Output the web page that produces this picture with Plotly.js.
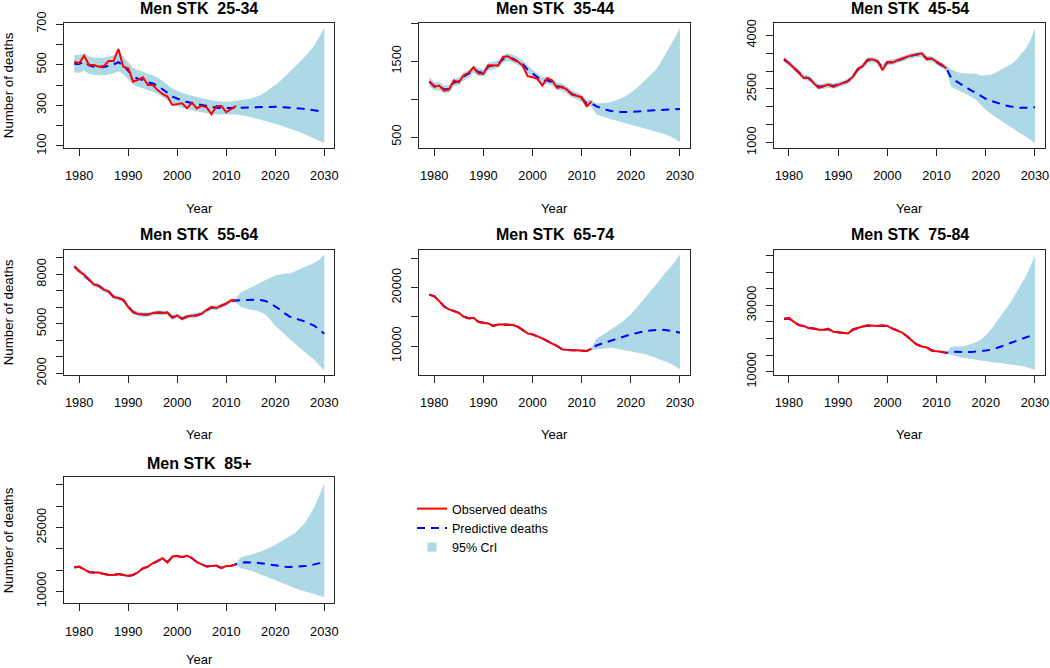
<!DOCTYPE html>
<html>
<head>
<meta charset="utf-8">
<script src="https://cdn.plot.ly/plotly-3.0.1.min.js"></script>
<style>
html,body{margin:0;padding:0;background:#fff;}
#chart{width:1050px;height:668px;}
</style>
</head>
<body>
<div id="chart"></div>
<script>
// ---------------- DATA ----------------
const years = [1979,1980,1981,1982,1983,1984,1985,1986,1987,1988,1989,1990,1991,1992,1993,1994,1995,1996,1997,1998,1999,2000,2001,2002,2003,2004,2005,2006,2007,2008,2009,2010,2011,2012,2013,2014,2015,2016,2017,2018,2019,2020,2021,2022,2023,2024,2025,2026,2027,2028,2029,2030];
const yearsObs = [1979,1980,1981,1982,1983,1984,1985,1986,1987,1988,1989,1990,1991,1992,1993,1994,1995,1996,1997,1998,1999,2000,2001,2002,2003,2004,2005,2006,2007,2008,2009,2010,2011,2012];

const panelTitles = ["Men STK\u00a0 25-34","Men STK\u00a0 35-44","Men STK\u00a0 45-54","Men STK\u00a0 55-64","Men STK\u00a0 65-74","Men STK\u00a0 75-84","Men STK\u00a0 85+"];
const xTickVals = [1980,1990,2000,2010,2020,2030];
const xTickText = ["1980","1990","2000","2010","2020","2030"];

const yTicks_25_34 = [100,200,300,400,500,600,700];
const yLabels_25_34 = ["100","","300","","500","","700"];
const yTicks_35_44 = [500,1000,1500,2000];
const yLabels_35_44 = ["500","","1500",""];
const yTicks_45_54 = [1000,1500,2000,2500,3000,3500,4000];
const yLabels_45_54 = ["1000","","","2500","","","4000"];
const yTicks_55_64 = [2000,3000,4000,5000,6000,7000,8000,9000];
const yLabels_55_64 = ["2000","","","5000","","","8000",""];
const yTicks_65_74 = [10000,15000,20000,25000];
const yLabels_65_74 = ["10000","","20000",""];
const yTicks_75_84 = [10000,15000,20000,25000,30000,35000,40000,45000];
const yLabels_75_84 = ["10000","","","","30000","","",""];
const yTicks_85 = [10000,15000,20000,25000,30000,35000];
const yLabels_85 = ["10000","","","25000","",""];

// 25-34
const obs_25_34 = [515,507,544,498,498,490,493,518,518,577,490,482,416,425,438,400,400,375,356,343,302,307,310,285,313,285,298,290,256,297,297,266,280,297];
const pred_25_34 = [505,503,515,497,490,488,489,494,501,512,496,470,443,430,424,413,407,396,381,362,343,332,324,316,311,306,301,296,290,288,287,286,287,288,289,288,288,289,290,292,293,293,292,291,289,287,285,282,279,275,271,268];
const hi_25_34 = [548,547,556,540,535,533,535,540,545,555,540,512,485,472,466,455,448,437,421,401,382,370,362,353,347,341,336,330,324,321,319,318,319,322,327,330,334,341,351,366,382,400,420,442,465,490,513,538,565,595,635,682];
const lo_25_34 = [462,460,470,455,449,447,448,452,458,468,453,428,402,390,384,373,367,357,342,325,306,296,288,281,276,271,266,262,256,255,254,254,255,255,252,247,242,236,230,224,217,210,202,194,186,177,168,158,148,137,125,115];

// 35-44
const obs_35_44 = [1237,1162,1180,1114,1127,1246,1224,1316,1346,1421,1338,1333,1447,1443,1443,1557,1566,1522,1496,1443,1303,1289,1268,1180,1276,1246,1149,1162,1127,1061,1048,1026,908,969];
const pred_35_44 = [1230,1175,1170,1130,1135,1220,1235,1300,1335,1395,1360,1345,1430,1445,1460,1530,1555,1535,1505,1465,1390,1340,1300,1240,1250,1225,1170,1160,1120,1070,1045,1010,945,945,905,880,860,845,835,830,830,834,840,846,852,857,862,866,869,871,872,872];
const hi_35_44 = [1290,1228,1222,1182,1186,1270,1285,1350,1385,1445,1410,1395,1480,1495,1510,1580,1605,1585,1555,1515,1440,1390,1350,1290,1298,1273,1218,1208,1167,1117,1092,1057,992,990,943,946,952,963,982,1008,1042,1083,1135,1193,1255,1318,1382,1480,1588,1697,1815,1939];
const lo_35_44 = [1172,1122,1118,1078,1084,1170,1185,1250,1285,1345,1310,1295,1380,1395,1410,1480,1505,1485,1455,1415,1340,1290,1250,1190,1202,1177,1122,1112,1073,1023,998,963,898,900,798,775,754,735,718,700,684,667,650,633,615,597,579,560,538,512,478,434];

// 45-54
const obs_45_54 = [3344,3231,3091,2950,2809,2809,2669,2528,2575,2622,2556,2622,2669,2716,2837,3062,3137,3325,3325,3278,3025,3250,3231,3297,3353,3400,3437,3466,3494,3325,3353,3260,3184,3072];
const pred_45_54 = [3320,3220,3090,2960,2840,2800,2680,2560,2575,2610,2580,2610,2660,2720,2850,3040,3150,3300,3320,3270,3090,3240,3250,3290,3340,3390,3430,3460,3470,3350,3340,3250,3170,3070,2800,2710,2625,2540,2460,2385,2300,2225,2170,2120,2075,2040,2012,1990,1975,1972,1980,1990];
const hi_45_54 = [3395,3295,3165,3035,2915,2875,2755,2635,2650,2685,2655,2685,2735,2795,2925,3115,3225,3375,3395,3345,3165,3315,3325,3365,3415,3465,3505,3535,3545,3425,3415,3325,3245,3145,3044,2990,2935,2931,2931,2925,2875,2885,2895,2950,3025,3091,3184,3278,3437,3606,3840,4188];
const lo_45_54 = [3245,3145,3015,2885,2765,2725,2605,2485,2500,2535,2505,2535,2585,2645,2775,2965,3075,3225,3245,3195,3015,3165,3175,3215,3265,3315,3355,3385,3395,3275,3265,3175,3095,2995,2556,2495,2434,2360,2280,2200,2060,1919,1815,1712,1620,1535,1450,1360,1270,1187,1085,981];

// 55-64
const obs_55_64 = [8492,8188,7985,7680,7376,7316,7072,6970,6626,6565,6463,6017,5692,5591,5550,5550,5652,5692,5652,5692,5348,5510,5287,5450,5490,5510,5611,5855,6017,5956,6098,6220,6423,6423];
const pred_55_64 = [8470,8200,7980,7690,7400,7300,7080,6950,6650,6560,6440,6040,5720,5600,5560,5570,5640,5680,5670,5660,5400,5480,5320,5430,5490,5520,5620,5830,5990,5970,6090,6220,6400,6420,6400,6420,6440,6460,6440,6380,6250,6060,5850,5620,5430,5330,5246,5145,5003,4881,4640,4394];
const hi_55_64 = [8600,8330,8110,7820,7530,7430,7210,7080,6780,6690,6570,6170,5850,5730,5690,5700,5770,5810,5800,5790,5530,5610,5450,5560,5620,5650,5750,5960,6120,6100,6220,6350,6530,6550,6910,7040,7174,7340,7510,7680,7800,7924,7990,8046,8050,8180,8330,8450,8570,8695,8900,9202];
const lo_55_64 = [8340,8070,7850,7560,7270,7170,6950,6820,6520,6430,6310,5910,5590,5470,5430,5440,5510,5550,5540,5530,5270,5350,5190,5300,5360,5390,5490,5700,5860,5840,5960,6090,6270,6290,6017,5930,5855,5810,5720,5550,5250,4880,4580,4333,4060,3790,3522,3280,3040,2811,2480,2142];

// 65-74
const obs_65_74 = [18840,18555,17700,16730,16274,15989,15700,15020,14734,14848,14107,13992,13878,13422,13707,13707,13707,13593,13308,12680,12167,11996,11711,11312,10855,10456,10000,9430,9316,9259,9259,9259,9145,9544];
const pred_65_74 = [18800,18500,17750,16800,16300,16000,15700,15050,14780,14800,14150,14000,13850,13480,13680,13700,13700,13580,13300,12700,12180,12000,11700,11320,10870,10470,10010,9450,9330,9270,9260,9250,9170,9520,10100,10400,10680,10920,11150,11430,11720,12000,12200,12400,12550,12650,12740,12790,12760,12680,12500,12280];
const hi_65_74 = [19000,18700,17950,17000,16500,16200,15900,15250,14980,15000,14350,14200,14050,13680,13880,13900,13900,13780,13500,12900,12380,12200,11900,11520,11070,10670,10210,9650,9530,9470,9460,9450,9370,9720,11255,11770,12281,12850,13420,13992,14700,15418,16400,17414,18400,19330,20266,21400,22548,23403,24500,25685];
const lo_65_74 = [18600,18300,17550,16600,16100,15800,15500,14850,14580,14600,13950,13800,13650,13280,13480,13500,13500,13380,13100,12500,11980,11800,11500,11120,10670,10270,9810,9250,9130,9070,9060,9050,8970,9320,9430,9600,9715,9700,9600,9430,9290,9145,9000,8859,8600,8300,8004,7700,7370,7034,6550,6008];

// 75-84
const obs_75_84 = [26000,26200,25000,24000,23800,23100,23000,22600,22600,23000,22000,21800,21800,21500,22800,23300,23600,24000,23800,23800,24000,23800,23000,22300,21800,20600,19300,18100,17600,17300,16300,16200,16000,15600];
const pred_75_84 = [25900,26000,25100,24100,23700,23200,23000,22700,22600,22800,22100,21850,21750,21600,22600,23200,23600,23900,23850,23800,23900,23750,23050,22350,21800,20700,19400,18200,17650,17300,16450,16200,16000,15700,16000,16050,16000,15950,15900,16000,16200,16400,16600,17000,17500,18100,18600,19100,19600,20100,20700,21300];
const hi_75_84 = [26150,26250,25350,24350,23950,23450,23250,22950,22850,23050,22350,22100,22000,21850,22850,23450,23850,24150,24100,24050,24150,24000,23300,22600,22050,20950,19650,18450,17900,17550,16700,16450,16250,15950,17500,17500,17600,17900,18300,18900,19600,20900,22600,24600,26800,28800,30800,33300,35800,38300,41500,45000];
const lo_75_84 = [25650,25750,24850,23850,23450,22950,22750,22450,22350,22550,21850,21600,21500,21350,22350,22950,23350,23650,23600,23550,23650,23500,22800,22100,21550,20450,19150,17950,17400,17050,16200,15950,15750,15450,15000,14600,14300,14050,13800,13500,13250,13000,12850,12700,12600,12450,12300,12100,11800,11500,11050,10600];

// 85+
const obs_85 = [15655,15812,15183,14477,14398,14398,14084,13848,13848,14084,13848,13613,13848,14477,15419,15812,16597,17225,17775,16754,18168,18325,18011,18404,17775,16833,16361,15812,15969,16047,15419,15969,15969,16361];
const pred_85 = [15600,15750,15200,14550,14400,14380,14100,13880,13860,14050,13870,13650,13850,14450,15350,15800,16550,17200,17650,16900,18050,18250,18050,18300,17800,16900,16400,15850,15950,16000,15500,15900,16000,16350,16750,16830,16830,16760,16600,16420,16230,16050,15900,15780,15730,15750,15810,15920,16050,16300,16620,16990];
const hi_85 = [15850,16000,15450,14800,14650,14630,14350,14130,14110,14300,14120,13900,14100,14700,15600,16050,16800,17450,17900,17150,18300,18500,18300,18550,18050,17150,16650,16100,16200,16250,15750,16150,16250,16600,18011,18300,18561,18950,19350,19740,20300,20917,21580,22252,22950,23665,24800,26021,27800,29948,32500,35445];
const lo_85 = [15350,15500,14950,14300,14150,14130,13850,13630,13610,13800,13620,13400,13600,14200,15100,15550,16300,16950,17400,16650,17800,18000,17800,18050,17550,16650,16150,15600,15700,15750,15250,15650,15750,16100,15419,15150,14870,14400,13930,13456,13060,12670,12200,11730,11257,10780,10314,9990,9680,9372,8980,8586];

// ---------------- LAYOUT / BUILD ----------------
const W = 1050, H = 668;
const colPx = [[64.3,334.3],[419.3,690],[774,1045]];
const rowPx = [[22.7,147.7],[249.5,375],[477.3,603.3]];
const titleYPx = [8.5, 234.5, 463];
const yearYPx = [208, 434, 659];

const panels = [
  {title: panelTitles[0], obs: obs_25_34, pred: pred_25_34, hi: hi_25_34, lo: lo_25_34, yt: yTicks_25_34, yl: yLabels_25_34, yr: [91.6, 706.4], col: 0, row: 0},
  {title: panelTitles[1], obs: obs_35_44, pred: pred_35_44, hi: hi_35_44, lo: lo_35_44, yt: yTicks_35_44, yl: yLabels_35_44, yr: [360, 2009], col: 1, row: 0},
  {title: panelTitles[2], obs: obs_45_54, pred: pred_45_54, hi: hi_45_54, lo: lo_45_54, yt: yTicks_45_54, yl: yLabels_45_54, yr: [859, 4350], col: 2, row: 0},
  {title: panelTitles[3], obs: obs_55_64, pred: pred_55_64, hi: hi_55_64, lo: lo_55_64, yt: yTicks_55_64, yl: yLabels_55_64, yr: [1897, 9505], col: 0, row: 1},
  {title: panelTitles[4], obs: obs_65_74, pred: pred_65_74, hi: hi_65_74, lo: lo_65_74, yt: yTicks_65_74, yl: yLabels_65_74, yr: [5040, 26540], col: 1, row: 1},
  {title: panelTitles[5], obs: obs_75_84, pred: pred_75_84, hi: hi_75_84, lo: lo_75_84, yt: yTicks_75_84, yl: yLabels_75_84, yr: [9010, 46800], col: 2, row: 1},
  {title: panelTitles[6], obs: obs_85, pred: pred_85, hi: hi_85, lo: lo_85, yt: yTicks_85, yl: yLabels_85, yr: [7180, 36800], col: 0, row: 2}
];

const FONT = "Liberation Sans, Arial, Helvetica, sans-serif";
const AXC = "#262626";
const BAND = "#ADD8E6";

const traces = [];
const layout = {
  width: W, height: H,
  margin: {l: 0, r: 0, t: 0, b: 0},
  paper_bgcolor: "#ffffff",
  plot_bgcolor: "#ffffff",
  font: {family: FONT, color: "#000"},
  showlegend: true,
  legend: {
    x: 412 / W, y: 1 - 494 / H, xanchor: "left", yanchor: "top",
    font: {family: FONT, size: 12.5, color: "#000"},
    bgcolor: "rgba(0,0,0,0)", borderwidth: 0,
    tracegroupgap: 0
  },
  annotations: []
};

panels.forEach((p, i) => {
  const n = i + 1;
  const xa = "x" + n, ya = "y" + n;
  const first = i === 0;
  traces.push({
    x: years, y: p.lo, xaxis: xa, yaxis: ya, type: "scatter", mode: "lines",
    line: {width: 0, color: BAND}, hoverinfo: "skip", showlegend: false
  });
  traces.push({
    x: years, y: p.hi, xaxis: xa, yaxis: ya, type: "scatter", mode: "lines",
    fill: "tonexty", fillcolor: BAND,
    line: {width: 0, color: BAND}, hoverinfo: "skip", showlegend: false
  });
  traces.push({
    x: years, y: p.pred, xaxis: xa, yaxis: ya, type: "scatter", mode: "lines",
    name: "Predictive deaths", legendgroup: "pred", showlegend: first, legendrank: 2,
    line: {color: "#0000FF", width: 2, dash: "8px,6px"}
  });
  traces.push({
    x: yearsObs, y: p.obs, xaxis: xa, yaxis: ya, type: "scatter", mode: "lines",
    name: "Observed deaths", legendgroup: "obs", showlegend: first, legendrank: 1,
    line: {color: "#FF0000", width: 2}
  });

  const cx = colPx[p.col], ry = rowPx[p.row];
  const axName = n === 1 ? "" : String(n);
  layout["xaxis" + axName] = {
    domain: [cx[0] / W, cx[1] / W], anchor: ya,
    range: [1976.96, 2032.04], autorange: false,
    tickmode: "array", tickvals: xTickVals, ticktext: xTickText,
    ticks: "outside", ticklen: 7, tickwidth: 1, tickcolor: AXC,
    showline: true, linecolor: AXC, linewidth: 1, mirror: true,
    showgrid: false, zeroline: false,
    tickfont: {family: FONT, size: 12.8, color: "#000"},
    ticklabelstandoff: 9, fixedrange: true
  };
  layout["yaxis" + axName] = {
    domain: [1 - ry[1] / H, 1 - ry[0] / H], anchor: xa,
    range: p.yr, autorange: false,
    tickmode: "array", tickvals: p.yt, ticktext: p.yl, tickangle: -90,
    ticks: "outside", ticklen: 7, tickwidth: 1, tickcolor: AXC,
    showline: true, linecolor: AXC, linewidth: 1, mirror: true,
    showgrid: false, zeroline: false,
    tickfont: {family: FONT, size: 12.8, color: "#000"},
    ticklabelstandoff: 5, fixedrange: true
  };

  // panel title
  layout.annotations.push({
    text: "<b>" + p.title + "</b>", xref: "paper", yref: "paper",
    x: (cx[0] + cx[1]) / 2 / W, y: 1 - titleYPx[p.row] / H,
    xanchor: "center", yanchor: "middle", showarrow: false,
    font: {family: FONT, size: 16, color: "#000"}
  });
  // x axis title
  layout.annotations.push({
    text: "Year", xref: "paper", yref: "paper",
    x: (cx[0] + cx[1]) / 2 / W, y: 1 - yearYPx[p.row] / H,
    xanchor: "center", yanchor: "middle", showarrow: false,
    font: {family: FONT, size: 13, color: "#000"}
  });
  // y axis title, left column only
  if (p.col === 0) {
    layout.annotations.push({
      text: "Number of deaths", xref: "paper", yref: "paper",
      x: 8 / W, y: 1 - ((ry[0] + ry[1]) / 2) / H,
      xanchor: "center", yanchor: "middle", showarrow: false, textangle: -90,
      font: {family: FONT, size: 13.3, color: "#000"}
    });
  }
});

// legend-only entry for the credible interval
traces.push({
  x: [null], y: [null], xaxis: "x7", yaxis: "y7", type: "scatter", mode: "markers",
  name: "95% CrI", legendrank: 3, showlegend: true, hoverinfo: "skip",
  marker: {symbol: "square", size: 9, color: BAND}
});

Plotly.newPlot("chart", traces, layout, {displayModeBar: false, staticPlot: true});
</script>
</body>
</html>
